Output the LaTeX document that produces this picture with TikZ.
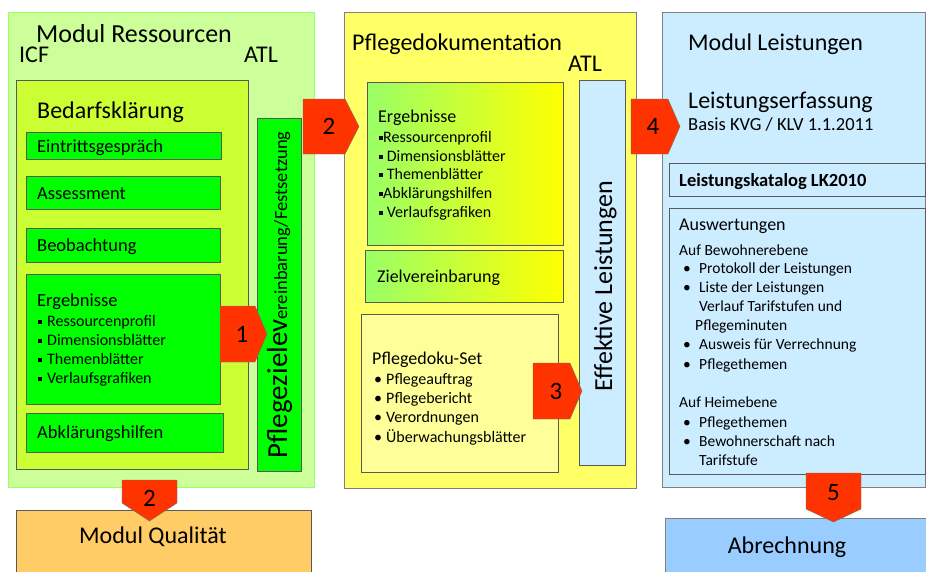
\documentclass[tikz,border=0pt]{standalone}
\usepackage{fontspec}
\setmainfont{Carlito}
\definecolor{ressgruen}{HTML}{CCFF99}
\definecolor{randgruen}{HTML}{99FF66}
\definecolor{bedarfgelb}{HTML}{CCFF33}
\definecolor{knallgruen}{HTML}{00FF00}
\definecolor{dokugelb}{HTML}{FFFF66}
\definecolor{setgelb}{HTML}{FFFF99}
\definecolor{hellblau}{HTML}{CCECFF}
\definecolor{abrblau}{HTML}{99CCFF}
\definecolor{qualorange}{HTML}{FFCC66}
\definecolor{pfeilrot}{HTML}{FF3300}
\newcommand\fs[1]{\fontsize{#1}{#1}\selectfont}
\newcommand\sqb{\rule[2pt]{4pt}{4pt}}
\tikzset{
  box/.style={draw=black!65, anchor=north west, inner sep=0pt},
  groesse/.style 2 args={minimum width=#1pt, minimum height=#2pt},
  txt/.style={anchor=base west, inner sep=0pt},
  pfeil/.style={draw=black!55, fill=pfeilrot},
  nr/.style={inner sep=0pt, font=\fs{25}},
}
\begin{document}
\begin{tikzpicture}[x=1pt,y=-1pt]
\useasboundingbox (0,0) rectangle (926,571);

% Modul Ressourcen
\node[box, draw=randgruen, fill=ressgruen, groesse={306}{475}] (ress) at (8,12) {};
\node[txt, font=\fs{26}] (resstitel) at (36,42) {Modul Ressourcen};
\node[txt, font=\fs{24}] (icf) at (19,62) {ICF};
\node[txt, font=\fs{24}] (atl1) at (244,62) {ATL};
\node[box, fill=bedarfgelb, groesse={232}{389}] (bedarf) at (16,80) {};
\node[txt, font=\fs{24}] (bedarftitel) at (37,118) {Bedarfskl\"arung};
\node[box, fill=knallgruen, groesse={195}{27}] (eintritt) at (26,132) {};
\node[box, fill=knallgruen, groesse={194}{33}] (assess) at (26,176) {};
\node[box, fill=knallgruen, groesse={194}{34}] (beob) at (26,228) {};
\node[box, fill=knallgruen, groesse={194}{130}] (ergeb) at (26,274) {};
\node[box, fill=knallgruen, groesse={197}{39}] (abkl) at (26,413) {};
\node[txt, font=\fs{18.5}] (eintritttext) at (37,152) {Eintrittsgespr\"ach};
\node[txt, font=\fs{18.5}] (assesstext) at (37,199) {Assessment};
\node[txt, font=\fs{18.5}] (beobtext) at (37,251) {Beobachtung};
\node[txt, font=\fs{18.5}] (ergebtext) at (37,306) {Ergebnisse};
\foreach \y/\t [count=\i] in {326/Ressourcenprofil, 345/Dimensionsbl\"atter, 364/Themenbl\"atter, 383/Verlaufsgrafiken}
  \node[txt, font=\fs{16}] (ergeb-\i) at (38,\y) {\sqb\hspace{5pt}\t};
\node[txt, font=\fs{18.5}] (abkltext) at (37,438) {Abkl\"arungshilfen};
\node[box, fill=knallgruen, groesse={44}{353}] (ziele) at (257,118) {};
\node[inner sep=0pt, anchor=base, rotate=90] (zieletext) at (287,295)
  {\fs{29}Pflegezielev\fs{18.5}ereinbarung/Festsetzung};

% Modul Qualitaet
\node[box, fill=qualorange, groesse={295}{70}] (qual) at (16,510) {};
\node[inner sep=0pt, anchor=base, font=\fs{24}] (qualtext) at (153,543) {Modul Qualit\"at};

% Pflegedokumentation
\node[box, draw=black!50, fill=dokugelb, groesse={292}{476}] (doku) at (344,12) {};
\node[txt, font=\fs{24}] (dokutitel) at (352,50) {Pflegedokumentation};
\node[txt, font=\fs{24}] (atl2) at (568,71) {ATL};
\node[box, left color=randgruen, right color=yellow, groesse={196}{163}] (ergebdoku) at (367,82) {};
\node[txt, font=\fs{18}] (ergebdokutext) at (378,122) {Ergebnisse};
\foreach \y/\t [count=\i] in {142/\sqb Ressourcenprofil, 161/\sqb\ Dimensionsbl\"atter, 179/\sqb\ Themenbl\"atter, 198/\sqb Abkl\"arungshilfen, 217/\sqb\ Verlaufsgrafiken}
  \node[txt, font=\fs{16}] (ergebdoku-\i) at (379,\y) {\t};
\node[box, left color=randgruen, right color=yellow, groesse={198}{52}] (zielv) at (365,250) {};
\node[txt, font=\fs{18}] (zielvtext) at (377,282) {Zielvereinbarung};
\node[box, fill=setgelb, groesse={197}{158}] (dokuset) at (361,314) {};
\node[txt, font=\fs{18}] (dokusettext) at (372,364) {Pflegedoku-Set};
\foreach \y/\t [count=\i] in {384/Pflegeauftrag, 403/Pflegebericht, 422/Verordnungen, 442/\"Uberwachungsbl\"atter}
  \node[txt, font=\fs{16}] (dokuset-\i) at (374,\y) {\textbullet\hspace{4pt}\t};
\node[box, fill=hellblau, groesse={46}{385}] (effektiv) at (579,80) {};
\node[inner sep=0pt, anchor=base, rotate=90, font=\fs{26}] (effektivtext) at (612,286) {Effektive Leistungen};

% Modul Leistungen
\node[box, draw=black!50, fill=hellblau, groesse={263}{475}] (leist) at (662,12) {};
\node[txt, font=\fs{24}] (leisttitel) at (688,50) {Modul Leistungen};
\node[txt, font=\fs{24}] (erfassung) at (688,108) {Leistungserfassung};
\node[txt, font=\fs{18.5}] (basis) at (688,130) {Basis KVG / KLV 1.1.2011};
\node[box, fill=hellblau, groesse={256}{33}] (katalog) at (669,163) {};
\node[txt, font=\fs{18.5}\bfseries] (katalogtext) at (679,186) {Leistungskatalog LK2010};
\node[box, fill=hellblau, groesse={256}{266}] (auswert) at (669,208) {};
\node[txt, font=\fs{18}] (auswerttext) at (679,230) {Auswertungen};
\foreach \y/\x/\t [count=\i] in {255/679/Auf Bewohnerebene, 273/699/Protokoll der Leistungen,
    292/699/Liste der Leistungen, 311/699/Verlauf Tarifstufen und, 330/695/Pflegeminuten,
    349/699/Ausweis f\"ur Verrechnung, 369/699/Pflegethemen, 407/679/Auf Heimebene,
    427/699/Pflegethemen, 446/699/Bewohnerschaft nach, 465/699/Tarifstufe}
  \node[txt, font=\fs{15.5}] (zeile-\i) at (\x,\y) {\t};
\foreach \y [count=\i] in {273,292,349,369,427,446}
  \node[txt, font=\fs{15.5}] (punkt-\i) at (683,\y) {\textbullet};

% Abrechnung
\node[box, draw=black!50, fill=abrblau, groesse={265}{70}] (abr) at (665,518) {};
\node[inner sep=0pt, anchor=base, font=\fs{24}] (abrtext) at (787,553) {Abrechnung};

% Nummernpfeile
\filldraw[pfeil] (220,306) -- (255,306) -- (267,334) -- (255,362) -- (220,362) -- cycle;
\node[nr] (nr1) at (242,334) {1};
\filldraw[pfeil] (303,99) -- (345,99) -- (359,126.5) -- (345,154) -- (303,154) -- cycle;
\node[nr] (nr2) at (329,126.5) {2};
\filldraw[pfeil] (122,480) -- (177,480) -- (177,503) -- (149.5,521) -- (122,503) -- cycle;
\node[nr] (nr2b) at (149.5,498) {2};
\filldraw[pfeil] (533,363) -- (570,363) -- (582,391) -- (570,419) -- (533,419) -- cycle;
\node[nr] (nr3) at (556,391) {3};
\filldraw[pfeil] (631,99) -- (668,99) -- (680,126.5) -- (668,154) -- (631,154) -- cycle;
\node[nr] (nr4) at (653,126.5) {4};
\filldraw[pfeil] (806,473) -- (861,473) -- (861,509) -- (833.5,522) -- (806,509) -- cycle;
\node[nr] (nr5) at (833.5,493) {5};
\end{tikzpicture}
\end{document}
